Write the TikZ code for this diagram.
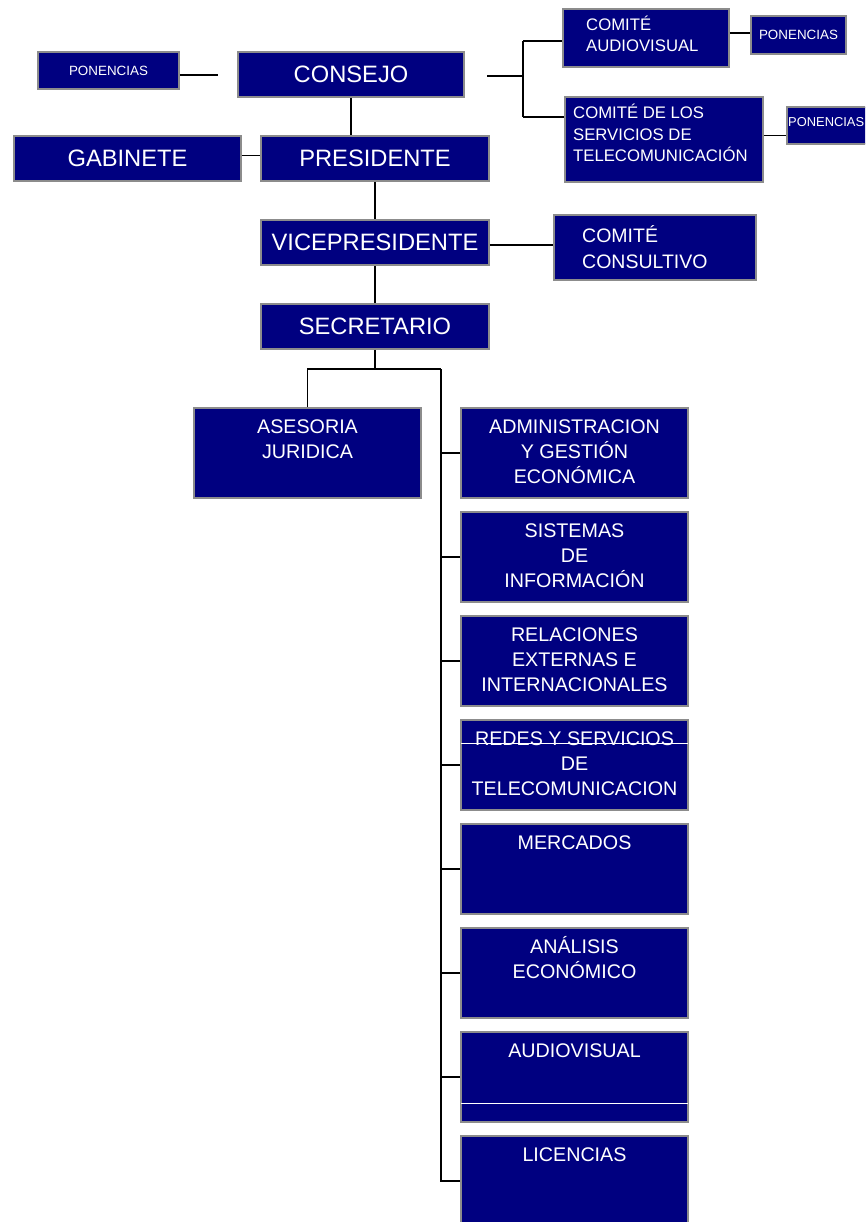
\documentclass[tikz,border=0pt]{standalone}
\usepackage{fontspec}
\setmainfont{Liberation Sans}
\definecolor{azulcaja}{RGB}{0,0,128}
\definecolor{bordecaja}{RGB}{140,140,140}
\tikzset{
    caja/.style={draw=bordecaja, line width=1.6pt, fill=azulcaja, text=white, inner sep=0pt},
    grande/.style={font=\fontsize{23.7}{28}\selectfont},
    chica/.style={text=white, inner sep=0pt, font=\fontsize{13.4}{16}\selectfont},
    mediana/.style={text=white, inner sep=0pt, align=left, font=\fontsize{16.7}{21.5}\selectfont},
    rotulo/.style={text=white, inner sep=0pt, align=center, anchor=north, font=\fontsize{19.7}{25}\selectfont},
    linea/.style={draw=black, line width=1.4pt}
}
\begin{document}
\begin{tikzpicture}[x=1pt, y=-1pt]
        \useasboundingbox (0,0) rectangle (865,1222);
        \clip (0,0) rectangle (865,1222);
        % parte alta
        \node[caja, chica, minimum width=141pt, minimum height=37pt] (ponL) at (108.5,70.5) {PONENCIAS};
        \node[caja, grande, minimum width=226pt, minimum height=45pt] (consejo) at (351,74.5) {CONSEJO};
        \node[caja, minimum width=166pt, minimum height=58pt] (comAV) at (646,38) {};
        \node[mediana, anchor=west] (comAV-t) at (586,34) {COMITÉ\\AUDIOVISUAL};
        \node[caja, chica, minimum width=95pt, minimum height=38pt] (ponAV) at (798.5,35) {PONENCIAS};
        \node[caja, minimum width=198pt, minimum height=85pt] (comTel) at (664,139.5) {};
        \node[mediana, anchor=west] (comTel-t) at (573,133) {COMITÉ DE LOS\\SERVICIOS DE\\TELECOMUNICACIÓN};
        \node[caja, minimum width=85pt, minimum height=37pt] (ponTel) at (829.5,125.5) {};
        \node[chica, anchor=west, font=\fontsize{12.9}{16}\selectfont] (ponTel-t) at (788,122) {PONENCIAS};
        \node[caja, grande, minimum width=227pt, minimum height=45pt] (gabinete) at (127.5,158.5) {GABINETE};
        \node[caja, grande, minimum width=228pt, minimum height=45pt] (presidente) at (375,158.5) {PRESIDENTE};
        \node[caja, grande, minimum width=228pt, minimum height=45pt] (vice) at (375,242.5) {VICEPRESIDENTE};
        \node[caja, minimum width=202pt, minimum height=65pt] (consultivo) at (655,247.5) {};
        \node[mediana, anchor=west, font=\fontsize{19.5}{26}\selectfont] (consultivo-t) at (582,247) {COMITÉ\\CONSULTIVO};
        \node[caja, grande, minimum width=228pt, minimum height=45pt] (secretario) at (375,326.5) {SECRETARIO};
        \node[caja, minimum width=227pt, minimum height=90pt] (asesoria) at (307.5,453) {};
        \node[rotulo] (asesoria-t) at ([yshift=-8.5pt]asesoria.north) {\strut ASESORIA\\JURIDICA};
        % columna de areas
        \foreach \nombre/\k/\texto in {adm/0/{ADMINISTRACION\\Y GESTIÓN\\ECONÓMICA},
            sis/1/{SISTEMAS\\DE\\INFORMACIÓN}, rel/2/{RELACIONES\\EXTERNAS E\\INTERNACIONALES},
            red/3/{REDES Y SERVICIOS\\DE\\TELECOMUNICACION}, mer/4/{MERCADOS},
            ana/5/{ANÁLISIS\\ECONÓMICO}, aud/6/{AUDIOVISUAL}, lic/7/{LICENCIAS}}
        {
            \node[caja, minimum width=227pt, minimum height=90pt] (\nombre) at (574.5,{453+104*\k}) {};
            \node[rotulo] (\nombre-t) at ([yshift=-8.5pt]\nombre.north) {\strut\texto};
        }
        \draw[white, line width=1pt] ([xshift=1pt,yshift=-24pt]red.north west) -- ([xshift=-1pt,yshift=-24pt]red.north east);
        \draw[white, line width=1pt] ([xshift=1pt,yshift=-72pt]aud.north west) -- ([xshift=-1pt,yshift=-72pt]aud.north east);
        % conexiones
        \coordinate (ponL-fin) at (218,75);
        \draw[linea] (ponL-fin -| ponL.east) -- (ponL-fin);
        \coordinate (cjR) at (487,76);
        \coordinate (rama) at (523,76);
        \coordinate (ramaA) at (523,41);
        \coordinate (ramaB) at (523,117);
        \draw[linea] (cjR) -- (rama);
        \draw[linea] (ramaA) -- (ramaB);
        \draw[linea] (ramaA) -- (ramaA -| comAV.west);
        \draw[linea] (ramaB) -- (ramaB -| comTel.west);
        \draw[linea] ([yshift=5pt]comAV.east) -- ([yshift=5pt]comAV.east -| ponAV.west);
        \draw[linea] ([yshift=4pt]comTel.east) -- ([yshift=4pt]comTel.east -| ponTel.west);
        \draw[linea] (consejo.south) -- (consejo.south |- presidente.north);
        \draw[linea] ([yshift=3pt]gabinete.east) -- ([yshift=3pt]presidente.west);
        \draw[linea] (presidente.south) -- (vice.north);
        \draw[linea] ([yshift=-2.5pt]vice.east) -- ([yshift=-2.5pt]vice.east -| consultivo.west);
        \draw[linea] (vice.south) -- (secretario.north);
        \coordinate (tronco) at (441,369);
        \draw[linea] (secretario.south) |- (tronco);
        \draw[linea] (asesoria.north) |- (tronco);
        \draw[linea] (tronco) |- (lic.west);
        \foreach \n in {adm, sis, rel, red, mer, ana, aud}
            \draw[linea] (\n.west) -- (\n.west -| tronco);
\end{tikzpicture}
\end{document}
